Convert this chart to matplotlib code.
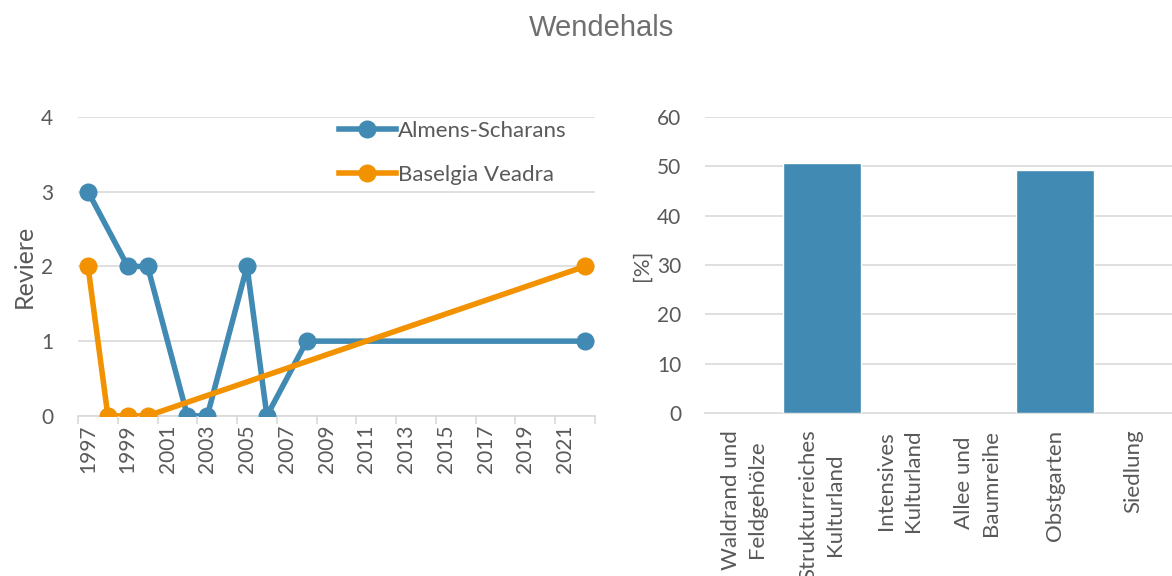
import matplotlib
matplotlib.use("Agg")
import matplotlib.pyplot as plt
import numpy as np

plt.rcParams['font.family'] = ['Lato', 'DejaVu Sans']

# Data
years_almens = [1997, 1999, 2000, 2002, 2003, 2005, 2006, 2008, 2022]
vals_almens = [3, 2, 2, 0, 0, 2, 0, 1, 1]
years_baselgia = [1997, 1998, 1999, 2000, 2022]
vals_baselgia = [2, 0, 0, 0, 2]
xtick_years = list(range(1997, 2022, 2))

categories = ["Waldrand und\nFeldgehölze", "Strukturreiches\nKulturland", "Intensives\nKulturland",
              "Allee und\nBaumreihe", "Obstgarten", "Siedlung"]
percent = [0, 50.7, 0, 0, 49.3, 0]

blue = "#418AB3"
orange = "#F39200"
grid_c = "#D9D9D9"
text_c = "#595959"
fs = 15

fig = plt.figure(figsize=(11.72, 5.76), dpi=100)
fig.text(0.513, 0.952, "Wendehals", ha="center", va="center", fontsize=21, color="#6F6F6F",
         family=["Liberation Sans", "DejaVu Sans"])

# Left chart
ax1 = fig.add_axes([0.0666, 0.278, 0.441, 0.519])
ax1.plot(years_almens, vals_almens, color=blue, lw=4, marker="o", ms=12, label="Almens-Scharans", zorder=3)
ax1.plot(years_baselgia, vals_baselgia, color=orange, lw=4, marker="o", ms=12, label="Baselgia Veadra", zorder=3)
ax1.set_xlim(1996.5, 2022.5)
ax1.set_ylim(0, 4)
ax1.set_yticks([0, 1, 2, 3, 4])
ax1.set_xticks(xtick_years)
ax1.set_xticklabels([str(y) for y in xtick_years], rotation=90, va="top")
ax1.set_xticks(np.arange(1996.5, 2023, 2), minor=True)
ax1.tick_params(axis="x", which="major", length=0, pad=6, labelsize=fs, labelcolor=text_c)
ax1.tick_params(axis="x", which="minor", length=6, color=grid_c, width=1.2)
ax1.tick_params(axis="y", length=0, pad=18, labelsize=fs, labelcolor=text_c)
ax1.grid(axis="y", color=grid_c, lw=1.2)
ax1.set_axisbelow(True)
for s in ["top", "right", "left"]:
    ax1.spines[s].set_visible(False)
ax1.spines["bottom"].set_color(grid_c)
ax1.spines["bottom"].set_linewidth(1.2)
ax1.set_ylabel("Reviere", fontsize=18, color=text_c, labelpad=4)
leg = ax1.legend(loc="upper left", bbox_to_anchor=(0.505, 0.988), frameon=False, fontsize=16,
                 handlelength=2.55, handletextpad=0.1, labelspacing=1.1, labelcolor=text_c,
                 borderaxespad=0, borderpad=0, markerscale=1.0)

# Right chart
ax2 = fig.add_axes([0.6015, 0.283, 0.3985, 0.514])
x = np.arange(len(categories))
ax2.bar(x, percent, width=1.0, color=blue, edgecolor="white", linewidth=1, zorder=3)
ax2.set_xlim(-0.5, len(categories) - 0.5)
ax2.set_ylim(0, 60)
ax2.set_yticks(range(0, 61, 10))
ax2.set_xticks(x)
ax2.set_xticklabels(categories, rotation=90, va="top", ha="center", multialignment="center",
                    linespacing=1.4)
ax2.tick_params(axis="x", length=0, pad=12, labelsize=16, labelcolor=text_c)
ax2.tick_params(axis="y", length=0, pad=17, labelsize=fs, labelcolor=text_c)
ax2.grid(axis="y", color=grid_c, lw=1.2)
ax2.set_axisbelow(True)
for s in ["top", "right", "left"]:
    ax2.spines[s].set_visible(False)
ax2.spines["bottom"].set_color(grid_c)
ax2.spines["bottom"].set_linewidth(1.2)
ax2.set_ylabel("[%]", fontsize=16, color=text_c, labelpad=4)

fig.savefig("out.png", dpi=100)
